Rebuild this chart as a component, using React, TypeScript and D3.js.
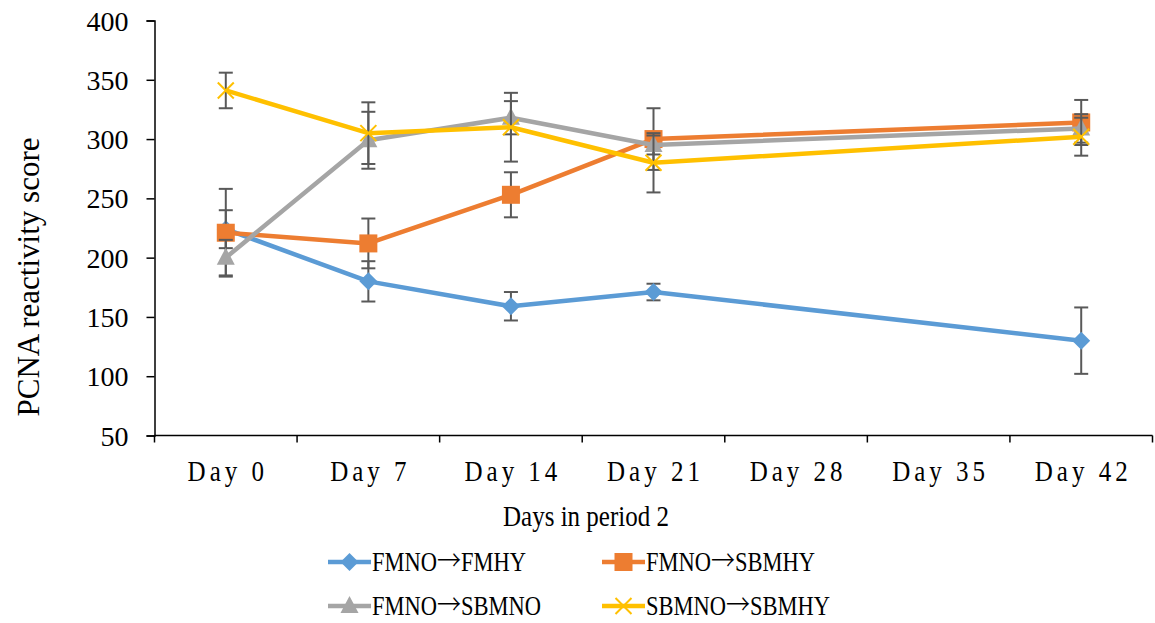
import React, { useRef, useEffect } from 'react';
import * as d3 from 'd3';

// categories and series values
const days = ['Day 0', 'Day 7', 'Day 14', 'Day 21', 'Day 28', 'Day 35', 'Day 42'];
const seriesNames = [['FMNO', 'FMHY'], ['FMNO', 'SBMHY'], ['FMNO', 'SBMNO'], ['SBMNO', 'SBMHY']];
const seriesColors = ['#5B9BD5', '#ED7D31', '#A5A5A5', '#FFC000'];
const seriesMarkers = ['diamond', 'square', 'triangle', 'cross'];
const sampledDays = ['Day 0', 'Day 7', 'Day 14', 'Day 21', 'Day 42'];

const fmhyValues = [224, 180, 159, 171, 130];
const fmhyErrors = [16, 17, 12, 7, 28];
const sbmhyValues = [221, 212, 253, 300, 314];
const sbmhyErrors = [37, 21, 19, 26, 19];
const sbmnoValues = [200, 299, 318, 295, 309];
const sbmnoErrors = [15, 24, 14, 8, 12];
const sbSbValues = [341, 305, 310, 280, 302];
const sbSbErrors = [15, 26, 29, 25, 16];

const allValues = [fmhyValues, sbmhyValues, sbmnoValues, sbSbValues];
const allErrors = [fmhyErrors, sbmhyErrors, sbmnoErrors, sbSbErrors];
const yTicks = [50, 100, 150, 200, 250, 300, 350, 400];

const FONT = '"Liberation Serif", "Times New Roman", serif';
const STRETCH = 1.18; // the source image text is a bit taller than it is wide

const App = () => {
  const svgRef = useRef<SVGSVGElement>(null);

  useEffect(() => {
    const width = 1155;
    const height = 623;
    const svg = d3.select(svgRef.current);
    svg.selectAll('*').remove();
    svg.attr('width', width).attr('height', height).style('font-family', FONT);

    const x = d3.scaleBand().domain(days).range([154.5, 1152.5]);
    const y = d3.scaleLinear().domain([50, 400]).range([435.5, 20.5]);
    const cx = (d: string) => (x(d) as number) + x.bandwidth() / 2;

    // y axis
    const yAxis = svg.append('g').attr('transform', 'translate(154.5,0)')
      .call(d3.axisLeft(y).tickValues(yTicks).tickSize(8).tickPadding(18));
    yAxis.attr('font-family', FONT);
    yAxis.select('.domain').attr('stroke', '#000').attr('stroke-width', 1.5);
    yAxis.selectAll('.tick line').attr('stroke', '#000').attr('stroke-width', 1.5);
    yAxis.selectAll('.tick text')
      .attr('font-family', FONT).attr('font-size', 28).attr('fill', '#000')
      .attr('dy', '0.34em');

    // x axis: line, ticks at category boundaries, labels at centres
    const xAxis = svg.append('g');
    xAxis.append('line')
      .attr('x1', x.range()[0]).attr('x2', x.range()[1])
      .attr('y1', y(50)).attr('y2', y(50))
      .attr('stroke', '#000').attr('stroke-width', 1.5);
    const bounds = days.map(d => x(d) as number).concat([x.range()[1]]);
    xAxis.selectAll('line.tk').data(bounds).join('line').attr('class', 'tk')
      .attr('x1', d => d).attr('x2', d => d)
      .attr('y1', y(50)).attr('y2', y(50) + 7)
      .attr('stroke', '#000').attr('stroke-width', 1.5);
    xAxis.selectAll('text').data(days).join('text')
      .attr('transform', d => `translate(${cx(d) + 2},481) scale(1,${STRETCH})`)
      .attr('text-anchor', 'middle')
      .attr('font-size', 25)
      .attr('letter-spacing', 4)
      .text(d => d);

    // axis titles
    svg.append('text')
      .attr('transform', `translate(586,526) scale(1,${STRETCH})`)
      .attr('text-anchor', 'middle').attr('font-size', 25)
      .text('Days in period 2');
    svg.append('text')
      .attr('transform', 'translate(39,277) rotate(-90)')
      .attr('text-anchor', 'middle').attr('font-size', 31)
      .text('PCNA reactivity score');

    const drawMarker = (g: any, type: string, color: string, px: number, py: number) => {
      if (type === 'diamond') {
        g.append('path').attr('d', `M${px},${py - 9}L${px + 9},${py}L${px},${py + 9}L${px - 9},${py}Z`)
          .attr('fill', color);
      } else if (type === 'square') {
        g.append('rect').attr('x', px - 9).attr('y', py - 9).attr('width', 18).attr('height', 18)
          .attr('fill', color);
      } else if (type === 'triangle') {
        g.append('path').attr('d', `M${px},${py - 10}L${px + 9},${py + 7}L${px - 9},${py + 7}Z`)
          .attr('fill', color);
      } else {
        g.append('path').attr('d', `M${px - 8},${py - 8}L${px + 8},${py + 8}M${px + 8},${py - 8}L${px - 8},${py + 8}`)
          .attr('stroke', color).attr('stroke-width', 2);
      }
    };

    const line = d3.line<[string, number]>().x(d => cx(d[0])).y(d => y(d[1]));

    allValues.forEach((vals, si) => {
      const g = svg.append('g');
      const pts: [string, number][] = sampledDays.map((d, i) => [d, vals[i]]);
      g.append('path').datum(pts)
        .attr('d', line)
        .attr('fill', 'none')
        .attr('stroke', seriesColors[si])
        .attr('stroke-width', 4.5)
        .attr('stroke-linejoin', 'round');
      // error bars
      const errs = allErrors[si];
      pts.forEach(([d, v], i) => {
        const px = cx(d);
        const y0 = y(v - errs[i]);
        const y1 = y(v + errs[i]);
        const eb = g.append('g').attr('stroke', '#595959').attr('stroke-width', 2);
        eb.append('line').attr('x1', px).attr('x2', px).attr('y1', y0).attr('y2', y1);
        eb.append('line').attr('x1', px - 7).attr('x2', px + 7).attr('y1', y0).attr('y2', y0);
        eb.append('line').attr('x1', px - 7).attr('x2', px + 7).attr('y1', y1).attr('y2', y1);
      });
      pts.forEach(([d, v]) => drawMarker(g, seriesMarkers[si], seriesColors[si], cx(d), y(v)));
    });

    // legend
    const legendPos = [[328, 562], [602, 562], [328, 606], [602, 606]];
    seriesNames.forEach(([from, to], si) => {
      const [lx, ly] = legendPos[si];
      const g = svg.append('g');
      g.append('line').attr('x1', lx).attr('x2', lx + 43).attr('y1', ly).attr('y2', ly)
        .attr('stroke', seriesColors[si]).attr('stroke-width', 4.5);
      drawMarker(g, seriesMarkers[si], seriesColors[si], lx + 21.5, ly);
      const t = g.append('text')
        .attr('transform', `translate(${lx + 44},${ly + 9}) scale(1,${STRETCH})`)
        .attr('font-size', 22.5);
      t.append('tspan').text(from);
      t.append('tspan').attr('font-family', '"Noto Sans CJK JP"').attr('font-size', 24)
        .attr('font-weight', 300).text('→');
      t.append('tspan').text(to);
    });
  }, []);

  return (
    <div style={{ position: 'absolute', left: 0, top: 0, background: '#fff' }}>
      <svg ref={svgRef}></svg>
    </div>
  );
};

export default App;
